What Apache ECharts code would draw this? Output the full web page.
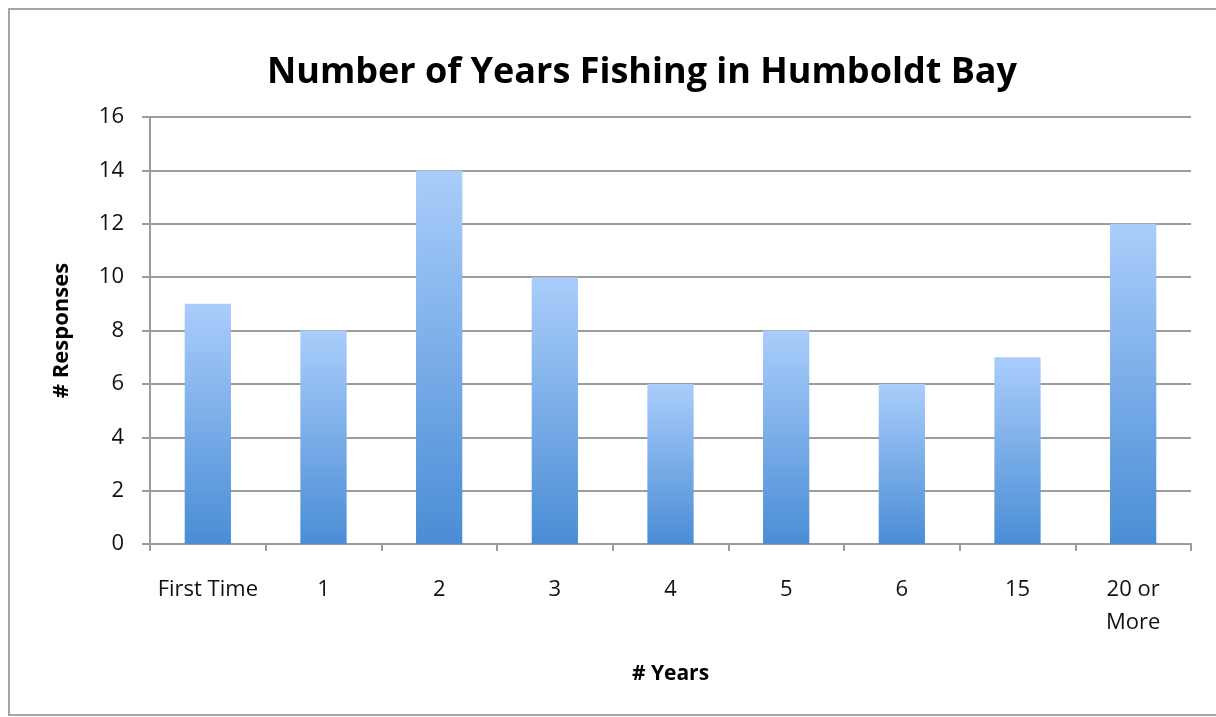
<!DOCTYPE html>
<html>
<head>
<meta charset="utf-8">
<style>
  html, body { margin: 0; padding: 0; background: #fff; }
  #main { width: 1216px; height: 717px; }
</style>
<script src="https://cdn.jsdelivr.net/npm/echarts@6/dist/echarts.min.js"></script>
</head>
<body>
<div id="main"></div>
<script>
// categories and values
var categories = ['First Time', '1', '2', '3', '4', '5', '6', '15', '20 or\nMore']
var responses = [9, 8, 14, 10, 6, 8, 6, 7, 12]
var yMin = 0
var yMax = 16
var yStep = 2

var font = '"Open Sans", "Noto Sans", sans-serif'
var gridColor = '#9c9c9c'

var myChart = echarts.init(document.getElementById('main'))
var option = {
  backgroundColor: '#fff',
  animation: false,
  title: {
    text: 'Number of Years Fishing in Humboldt Bay',
    left: 262,
    top: 50,
    textStyle: {
      color: '#000',
      fontSize: 36,
      fontWeight: 'bold',
      fontFamily: font
    }
  },
  graphic: [{
    type: 'rect',
    shape: { x: 9, y: 9, width: 1230, height: 706 },
    style: { fill: 'none', stroke: '#a6a6a6', lineWidth: 2 },
    silent: true
  }],
  grid: { left: 150, right: 25, top: 117, bottom: 173 },
  xAxis: {
    type: 'category',
    data: categories,
    name: '# Years',
    nameLocation: 'middle',
    nameGap: 120,
    nameTextStyle: { color: '#000', fontSize: 21, fontWeight: 'bold', fontFamily: font },
    axisLine: { lineStyle: { color: gridColor, width: 2 } },
    axisTick: { show: true, length: 7, alignWithLabel: false, lineStyle: { color: gridColor, width: 2 } },
    axisLabel: {
      color: '#111',
      fontSize: 22,
      fontFamily: font,
      margin: 29,
      lineHeight: 33,
      interval: 0
    }
  },
  yAxis: {
    type: 'value',
    min: yMin,
    max: yMax,
    interval: yStep,
    name: '# Responses',
    nameLocation: 'middle',
    nameGap: 77,
    nameRotate: 90,
    nameTextStyle: { color: '#000', fontSize: 22, fontWeight: 'bold', fontFamily: font },
    axisLine: { show: true, lineStyle: { color: gridColor, width: 2 } },
    axisTick: { show: true, length: 8, lineStyle: { color: gridColor, width: 2 } },
    axisLabel: { color: '#111', fontSize: 22, fontFamily: font, margin: 26 },
    splitLine: { lineStyle: { color: gridColor, width: 2 } }
  },
  series: [{
    type: 'bar',
    data: responses,
    barWidth: '40%',
    itemStyle: {
      color: new echarts.graphic.LinearGradient(0, 0, 0, 1, [
        { offset: 0, color: '#aacdfb' },
        { offset: 1, color: '#4a8dd5' }
      ])
    }
  }]
}
myChart.setOption(option)
</script>
</body>
</html>
